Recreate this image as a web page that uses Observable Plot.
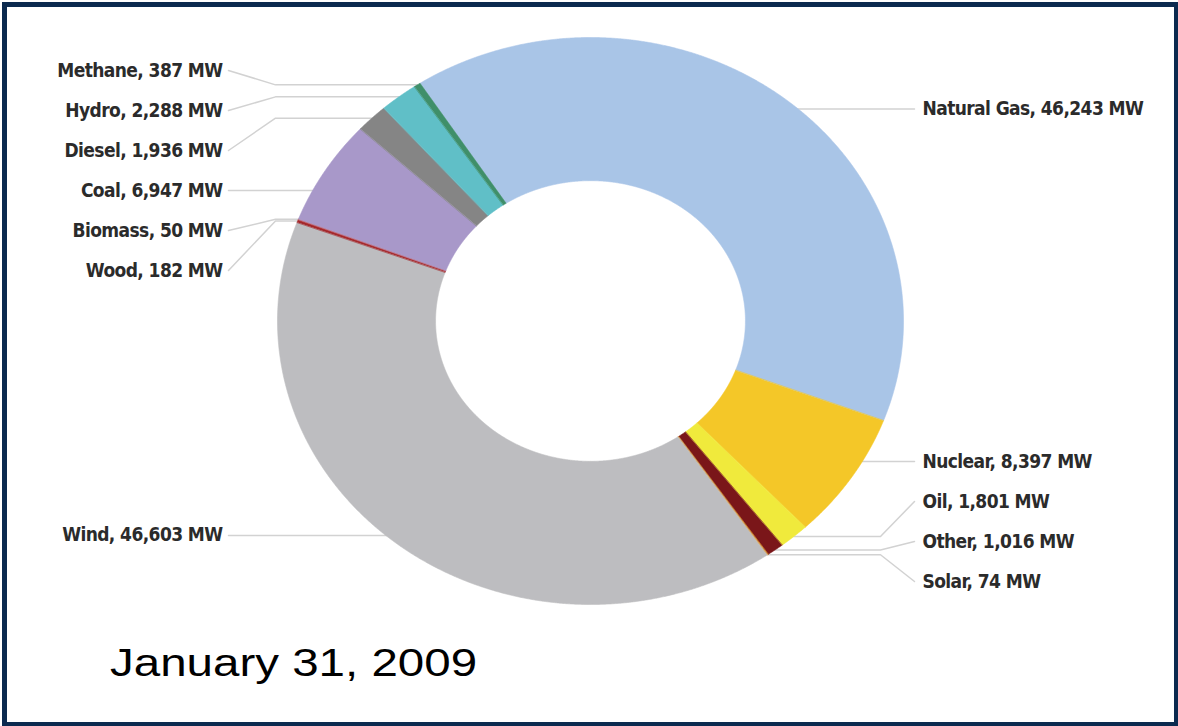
<!DOCTYPE html>
<html>
<head>
<meta charset="utf-8">
<script src="https://cdn.jsdelivr.net/npm/d3@7"></script>
<script src="https://cdn.jsdelivr.net/npm/@observablehq/plot@0.6"></script>
<style>
  html, body { margin: 0; padding: 0; background: #ffffff; }
  #wrap { position: relative; width: 1178px; height: 726px; overflow: hidden; background: #ffffff; }
  #chart { position: absolute; left: 0; top: 0; }
  #frame { position: absolute; left: 2px; top: 2px; width: 1176px; height: 724px; box-sizing: border-box;
           border-style: solid; border-color: #0b2a4f; border-width: 5px 4px 4px 5px; pointer-events: none; }
  #date { position: absolute; left: 110px; top: 644px; font-family: "Liberation Sans", Arial, sans-serif;
          font-size: 38px; line-height: 38px; color: #000; white-space: nowrap;
          transform: scaleX(1.25); transform-origin: 0 0; }
</style>
</head>
<body>
<div id="wrap">
  <div id="chart"></div>
  <div id="date">January 31, 2009</div>
  <div id="frame"></div>
</div>
<script>
// ---- data ----
const categories = ["Natural Gas", "Nuclear", "Oil", "Other", "Solar", "Wind", "Wood", "Biomass", "Coal", "Diesel", "Hydro", "Methane"];
const capacityMW = [46243, 8397, 1801, 1016, 74, 46603, 182, 50, 6947, 1936, 2288, 387];
const sliceColors = ["#a9c5e7", "#f4c728", "#f0ea3c", "#7a1619", "#e39a2e", "#bdbdc0", "#a3272b", "#c85a5e", "#a898c9", "#858585", "#60bfc7", "#3f8f6a"];

// ---- layout ----
const W = 1178, H = 640;
const START_DEG = -33;
const INNER = 0.495;
const xRange = [277, 903], yRange = [604, 37];
const xs = d3.scaleLinear().domain([-1, 1]).range(xRange);
const ys = d3.scaleLinear().domain([-1, 1]).range(yRange);
const LABEL_RIGHT_X = 922, LABEL_LEFT_X = 222;
const LINE_RIGHT_END = 914, LINE_LEFT_END = 228;
const ELBOW_RIGHT = 880, ELBOW_LEFT = 275;
const SPACING = 40, MIN_Y = 70, MAX_Y = 600, LABEL_K = 0.96;

const data = categories.map((name, i) => ({name, mw: capacityMW[i]}));
const start = START_DEG * Math.PI / 180;
const arcs = d3.pie().sort(null).value(d => d.mw).startAngle(start).endAngle(start + 2 * Math.PI)(data);

// slice polygons (data coordinates on the unit ellipse)
const polys = [];
const step = 0.2 * Math.PI / 180;
for (const a of arcs) {
  const n = Math.max(2, Math.ceil((a.endAngle - a.startAngle) / step));
  for (let k = 0; k <= n; k++) {
    const t = a.startAngle + (a.endAngle - a.startAngle) * k / n;
    polys.push({name: a.data.name, x: Math.sin(t), y: Math.cos(t)});
  }
  for (let k = n; k >= 0; k--) {
    const t = a.startAngle + (a.endAngle - a.startAngle) * k / n;
    polys.push({name: a.data.name, x: INNER * Math.sin(t), y: INNER * Math.cos(t)});
  }
}

// labels
const cyPix = ys(0);
const labels = arcs.map(a => {
  const m = (a.startAngle + a.endAngle) / 2;
  const px = xs(Math.sin(m)), py = ys(Math.cos(m));
  return {name: a.data.name, mw: a.data.mw, a0: a.startAngle, a1: a.endAngle, m, px, py,
          side: Math.sin(m) >= 0 ? "right" : "left", wy: cyPix + LABEL_K * (py - cyPix)};
});

function spread(items) {
  items.sort((a, b) => a.wy - b.wy);
  let clusters = items.map(d => ({items: [d]}));
  const center = c => d3.mean(c.items, d => d.wy);
  const place = c => {
    let top = center(c) - (c.items.length - 1) / 2 * SPACING;
    const bottom = top + (c.items.length - 1) * SPACING;
    if (top < MIN_Y) top = MIN_Y;
    if (bottom > MAX_Y) top -= bottom - MAX_Y;
    c.top = top; c.bottom = top + (c.items.length - 1) * SPACING;
  };
  clusters.forEach(place);
  let merged = true;
  while (merged) {
    merged = false;
    for (let i = 1; i < clusters.length; i++) {
      if (clusters[i].top - clusters[i - 1].bottom < SPACING) {
        clusters[i - 1].items = clusters[i - 1].items.concat(clusters[i].items);
        clusters.splice(i, 1);
        place(clusters[i - 1]);
        merged = true;
        break;
      }
    }
  }
  for (const c of clusters) c.items.forEach((d, k) => d.ly = c.top + k * SPACING);
}
spread(labels.filter(d => d.side === "left"));
spread(labels.filter(d => d.side === "right"));

const fmt = d3.format(",");
const leaders = [];
for (const d of labels) {
  d.text = `${d.name}, ${fmt(d.mw)} MW`;
  const right = d.side === "right";
  const endX = right ? LINE_RIGHT_END : LINE_LEFT_END;
  const c = ys.invert(d.ly);
  let hit = false, theta = 0;
  if (Math.abs(c) <= 1) {
    theta = right ? Math.acos(c) : 2 * Math.PI - Math.acos(c);
    while (theta < start) theta += 2 * Math.PI;
    while (theta >= start + 2 * Math.PI) theta -= 2 * Math.PI;
    hit = theta >= d.a0 && theta <= d.a1;
  }
  if (hit) {
    leaders.push({name: d.name, x: 0.96 * Math.sin(theta), y: c});
    leaders.push({name: d.name, x: xs.invert(endX), y: c});
  } else {
    const elbowX = right ? Math.max(ELBOW_RIGHT, d.px) : Math.min(ELBOW_LEFT, d.px);
    leaders.push({name: d.name, x: Math.sin(d.m), y: Math.cos(d.m)});
    leaders.push({name: d.name, x: xs.invert(elbowX), y: Math.cos(d.m)});
    leaders.push({name: d.name, x: xs.invert(endX), y: c});
  }
  d.lx = xs.invert(right ? LABEL_RIGHT_X : LABEL_LEFT_X);
  d.lyData = c;
}

const labelFont = "'Liberation Sans Narrow', 'DejaVu Sans Condensed', 'Arial Narrow', sans-serif";

const chart = Plot.plot({
  width: W,
  height: H,
  margin: 0,
  style: {background: "transparent", overflow: "visible", letterSpacing: "-0.6px"},
  x: {domain: [-1, 1], range: xRange, axis: null},
  y: {domain: [-1, 1], range: yRange, axis: null},
  color: {domain: categories, range: sliceColors},
  marks: [
    Plot.line(leaders, {x: "x", y: "y", z: "name", stroke: "#d2d2d2", strokeWidth: 1.5}),
    Plot.line(polys, {x: "x", y: "y", z: "name", fill: "name", stroke: "name", strokeWidth: 0.6, curve: "linear-closed"}),
    Plot.text(labels.filter(d => d.side === "right"), {x: "lx", y: "lyData", text: "text", textAnchor: "start",
      fontFamily: labelFont, fontWeight: "bold", fontSize: 19, fill: "#2b2b2b"}),
    Plot.text(labels.filter(d => d.side === "left"), {x: "lx", y: "lyData", text: "text", textAnchor: "end",
      fontFamily: labelFont, fontWeight: "bold", fontSize: 19, fill: "#2b2b2b"})
  ]
});
document.getElementById("chart").append(chart);
</script>
</body>
</html>
